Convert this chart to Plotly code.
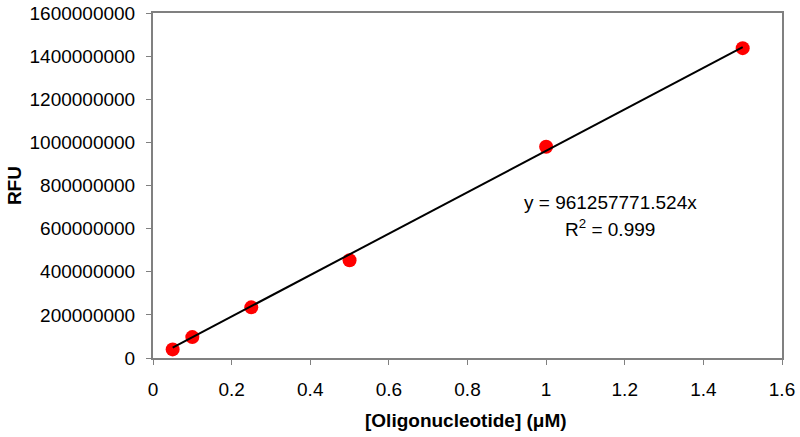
import plotly.graph_objects as go

conc = [0.05, 0.1, 0.25, 0.5, 1.0, 1.5]
rfu = [40e6, 97e6, 235e6, 453e6, 980e6, 1437e6]
slope = 961257771.524
r2 = 0.999
fit_x = [min(conc), max(conc)]
fit_y = [slope * v for v in fit_x]

font_family = "Liberation Sans, Arial, sans-serif"
axis_color = "#808080"

fig = go.Figure()
fig.add_trace(go.Scatter(x=conc, y=rfu, mode="markers",
                         marker=dict(color="#FF0000", size=14), showlegend=False))
fig.add_trace(go.Scatter(x=fit_x, y=fit_y, mode="lines",
                         line=dict(color="black", width=2), showlegend=False))

fig.add_annotation(x=1.1625, y=719e6, text=f"y = {slope:.3f}x", showarrow=False,
                   font=dict(size=19, color="black", family=font_family))
fig.add_annotation(x=1.1625, y=603e6, text=f"R<sup>2</sup> = {r2}", showarrow=False,
                   font=dict(size=19, color="black", family=font_family))

# axis titles
fig.add_annotation(xref="paper", yref="paper", x=-0.22, y=0.5, textangle=-90,
                   text="<b>RFU</b>", showarrow=False, xanchor="center", yanchor="middle",
                   font=dict(size=19, color="black", family=font_family))
fig.add_annotation(xref="paper", yref="paper", x=0.498, y=-0.18,
                   text="<b>[Oligonucleotide] (μM)</b>", showarrow=False,
                   xanchor="center", yanchor="middle",
                   font=dict(size=19, color="black", family=font_family))

fig.update_layout(
    width=800, height=437,
    margin=dict(l=153, r=18, t=13, b=79),
    paper_bgcolor="white", plot_bgcolor="white",
    font=dict(family=font_family, size=19, color="black"),
    xaxis=dict(range=[0, 1.6], dtick=0.2, showgrid=False, zeroline=False, automargin=False,
               showline=True, linecolor=axis_color, linewidth=2, mirror=True,
               ticks="outside", ticklen=5, tickcolor=axis_color, ticklabelstandoff=8,
               ticklabeloverflow="allow"),
    yaxis=dict(range=[0, 1.6e9], dtick=2e8, tickformat="d", showgrid=False, zeroline=False,
               automargin=False,
               showline=True, linecolor=axis_color, linewidth=2, mirror=True,
               ticks="outside", ticklen=5, tickcolor=axis_color, ticklabelstandoff=7,
               ticklabeloverflow="allow"),
)

# remove the default page margin so the 800x437 figure fills the window exactly
fig.write_html("out.html", config={"displayModeBar": False},
               post_script="document.body.style.margin='0';")
